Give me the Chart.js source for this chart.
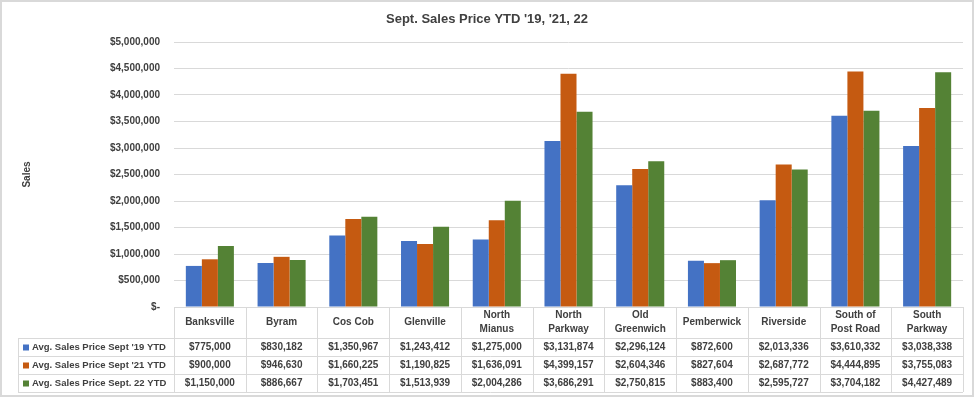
<!DOCTYPE html>
<html>
<head>
<meta charset="utf-8">
<script src="https://cdn.jsdelivr.net/npm/chart.js@4.4.0/dist/chart.umd.min.js"></script>
<style>
  html, body { margin: 0; padding: 0; background: #fff; }
  #wrap { width: 974px; height: 397px; }
</style>
</head>
<body>
<div id="wrap"><canvas id="salesChart" width="974" height="397"></canvas></div>
<script>
const areas = ['Banksville', 'Byram', 'Cos Cob', 'Glenville', ['North', 'Mianus'], ['North', 'Parkway'],
    ['Old', 'Greenwich'], 'Pemberwick', 'Riverside', ['South of', 'Post Road'], ['South', 'Parkway']];
const seriesNames = ["Avg. Sales Price Sept '19 YTD", "Avg. Sales Price Sept '21 YTD", "Avg. Sales Price Sept. 22 YTD"];
const sales19 = [775000, 830182, 1350967, 1243412, 1275000, 3131874, 2296124, 872600, 2013336, 3610332, 3038338];
const sales21 = [900000, 946630, 1660225, 1190825, 1636091, 4399157, 2604346, 827604, 2687772, 4444895, 3755083];
const sales22 = [1150000, 886667, 1703451, 1513939, 2004286, 3686291, 2750815, 883400, 2595727, 3704182, 4427489];
const seriesColors = ['#4472C4', '#C55A11', '#548235'];

const FONT = "'Liberation Sans', Arial, sans-serif";
const TEXT = '#404040';
const LINE = '#d9d9d9';

function money(v) {
    return v === 0 ? '$-' : '$' + v.toLocaleString('en-US');
}

// Title, data table under the plot, outer border
const tablePlugin = {
    id: 'dataTable',
    afterDraw(chart) {
        const { ctx, chartArea } = chart;
        const xs = chart.scales.x;
        const n = areas.length;
        const colW = (chartArea.right - chartArea.left) / n;
        const top = chartArea.bottom;
        const headH = 31, rowH = 18;
        const legendLeft = 18;
        const rowsTop = top + headH;
        const bottom = rowsTop + rowH * 3;
        const allData = [sales19, sales21, sales22];

        ctx.save();
        // outer border
        ctx.strokeStyle = LINE;
        ctx.lineWidth = 2;
        ctx.strokeRect(1, 1, chart.width - 2, chart.height - 2);

        // title
        ctx.fillStyle = TEXT;
        ctx.font = 'bold 13px ' + FONT;
        ctx.textAlign = 'center';
        ctx.textBaseline = 'middle';
        ctx.fillText("Sept. Sales Price YTD '19, '21, 22", 487, 19);

        // grid lines
        ctx.lineWidth = 1;
        ctx.strokeStyle = LINE;
        ctx.beginPath();
        ctx.moveTo(chartArea.left, top + 0.5);
        ctx.lineTo(chartArea.right, top + 0.5);
        for (let r = 0; r <= 3; r++) {
            const y = Math.round(rowsTop + r * rowH) + 0.5;
            ctx.moveTo(legendLeft, y);
            ctx.lineTo(chartArea.right, y);
        }
        ctx.moveTo(legendLeft + 0.5, rowsTop);
        ctx.lineTo(legendLeft + 0.5, bottom);
        for (let i = 0; i <= n; i++) {
            const x = Math.round(chartArea.left + i * colW) + 0.5;
            ctx.moveTo(x, top);
            ctx.lineTo(x, bottom);
        }
        ctx.stroke();

        // category headers
        ctx.font = 'bold 10px ' + FONT;
        ctx.fillStyle = TEXT;
        ctx.textAlign = 'center';
        areas.forEach((label, i) => {
            const cx = xs.getPixelForValue(i);
            const lines = Array.isArray(label) ? label : [label];
            const lh = 14;
            const y0 = top + headH / 2 - (lines.length - 1) * lh / 2;
            lines.forEach((t, k) => ctx.fillText(t, cx, y0 + k * lh));
        });

        // rows
        allData.forEach((vals, r) => {
            const cy = rowsTop + r * rowH + rowH / 2 + 0.5;
            ctx.fillStyle = seriesColors[r];
            ctx.fillRect(legendLeft + 5, cy - 3, 6, 6);
            ctx.fillStyle = TEXT;
            ctx.textAlign = 'left';
            ctx.font = 'bold 9.5px ' + FONT;
            ctx.fillText(seriesNames[r], legendLeft + 14, cy);
            ctx.font = 'bold 10px ' + FONT;
            ctx.textAlign = 'center';
            vals.forEach((v, i) => ctx.fillText(money(v), xs.getPixelForValue(i), cy));
        });
        ctx.restore();
    }
};

new Chart(document.getElementById('salesChart'), {
    type: 'bar',
    data: {
        labels: areas,
        datasets: [
            { label: seriesNames[0], data: sales19, backgroundColor: seriesColors[0] },
            { label: seriesNames[1], data: sales21, backgroundColor: seriesColors[1] },
            { label: seriesNames[2], data: sales22, backgroundColor: seriesColors[2] }
        ]
    },
    options: {
        responsive: false,
        animation: false,
        layout: { padding: { top: 42, bottom: 90, left: 0, right: 11 } },
        datasets: {
            bar: { categoryPercentage: 0.67, barPercentage: 1, borderWidth: 0 }
        },
        plugins: {
            legend: { display: false },
            title: { display: false },
            tooltip: { enabled: false }
        },
        scales: {
            x: { display: false },
            y: {
                min: 0,
                max: 5000000,
                afterFit(scale) { scale.width = 174; },
                border: { display: false },
                grid: { color: LINE, drawTicks: false },
                ticks: {
                    stepSize: 500000,
                    padding: 14,
                    color: TEXT,
                    font: { family: FONT, size: 10, weight: 'bold' },
                    callback: v => money(v)
                },
                title: {
                    display: true,
                    text: 'Sales',
                    color: TEXT,
                    font: { family: FONT, size: 10, weight: 'bold' },
                    padding: { top: 21, bottom: 0 }
                }
            }
        }
    },
    plugins: [tablePlugin]
});
</script>
</body>
</html>
